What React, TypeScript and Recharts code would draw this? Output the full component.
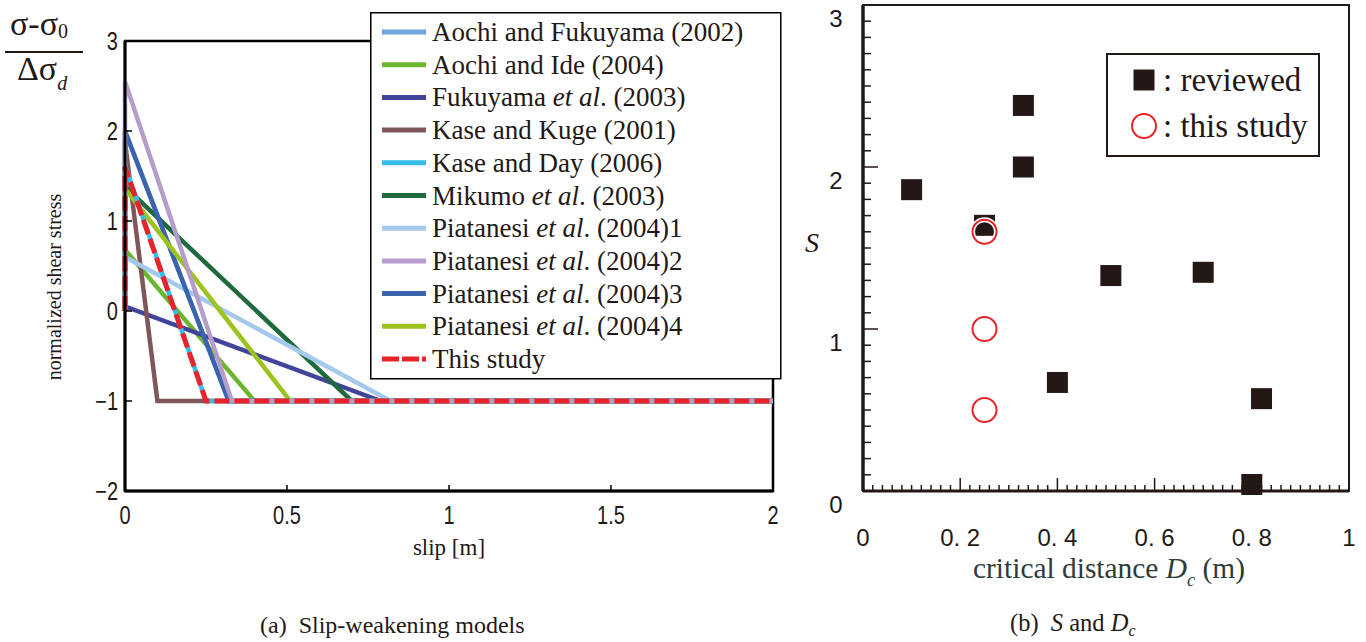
import {
  Legend,
  Line,
  LineChart,
  ReferenceArea,
  Scatter,
  ScatterChart,
  XAxis,
  YAxis,
} from 'recharts'

// (a) slip-weakening models
const modelNames = [
  'Aochi and Fukuyama (2002)',
  'Aochi and Ide (2004)',
  'Fukuyama et al. (2003)',
  'Kase and Kuge (2001)',
  'Kase and Day (2006)',
  'Mikumo et al. (2003)',
  'Piatanesi et al. (2004)1',
  'Piatanesi et al. (2004)2',
  'Piatanesi et al. (2004)3',
  'Piatanesi et al. (2004)4',
  'This study',
]
const modelColors = [
  '#6fa5dc',
  '#6cb52f',
  '#41449a',
  '#7f5659',
  '#35bde9',
  '#1f6a3c',
  '#a3c9ec',
  '#b59ccb',
  '#3b63ae',
  '#9cc31e',
  '#e8232a',
]
const peakStress = [2.0, 0.68, 0.05, 1.88, 1.62, 1.38, 0.6, 2.55, 2.0, 1.36, 1.6]
const slipDc = [0.32, 0.4, 0.79, 0.1, 0.25, 0.7, 0.82, 0.33, 0.32, 0.51, 0.25]
const drawOrder = [0, 1, 2, 3, 5, 6, 8, 9, 4, 7, 10]
const slipEnd = 2
const residualStress = -1
const slipTicks = [0, 0.5, 1, 1.5, 2]
const stressTicks = [-2, -1, 0, 1, 2, 3]

// (b) S and Dc
const dcReviewed = [0.1, 0.25, 0.33, 0.33, 0.4, 0.51, 0.7, 0.8, 0.82]
const sReviewed = [1.86, 1.64, 2.38, 2.0, 0.67, 1.33, 1.35, 0.04, 0.57]
const dcThisStudy = [0.25, 0.25, 0.25]
const sThisStudy = [1.6, 1.0, 0.5]
const dcMajor = [0, 0.2, 0.4, 0.6, 0.8, 1]
const dcLabels = ['0', '0. 2', '0. 4', '0. 6', '0. 8', '1']
const sLabels = [0, 1, 2, 3]

const ink = '#231815'
const serif = "'Liberation Serif', 'Times New Roman', serif"
const sans = "'Liberation Sans', Arial, sans-serif"

const modelLines = modelNames.map((name, i) => ({
  name,
  color: modelColors[i],
  points: [
    { x: 0, y: 0 },
    { x: 0, y: peakStress[i] },
    { x: slipDc[i], y: residualStress },
    { x: slipEnd, y: residualStress },
  ],
}))

const reviewedPts = dcReviewed.map((x, i) => ({ x, y: sReviewed[i] }))
const studyPts = dcThisStudy.map((x, i) => ({ x, y: sThisStudy[i] }))

// minor ticks every 0.02 on Dc, every 0.1 on S
const dcTicks = Array.from({ length: 51 }, (_, i) => Math.round(i * 2) / 100)
const sTicks = Array.from({ length: 31 }, (_, i) => Math.round(i) / 10)

function fmtStress(v: number) {
  return v < 0 ? '\u2212' + Math.abs(v) : String(v)
}

// condensed sans labels (no narrow font installed, so squeeze horizontally)
function NarrowText(props: { x: number; y: number; anchor: 'start' | 'middle' | 'end'; children: any }) {
  return (
    <text
      transform={`translate(${props.x},${props.y}) scale(0.8,1)`}
      textAnchor={props.anchor}
      fontSize={25}
      fontFamily={sans}
      fill={ink}
    >
      {props.children}
    </text>
  )
}

function SlipTick(p: any) {
  const x = p.x ?? 0
  const y = p.y ?? 0
  const v = p.payload?.value ?? 0
  return (
    <g>
      {v > 0 && v < 2 && <line x1={x} y1={y} x2={x} y2={y - 6} stroke="#000" strokeWidth={1.5} />}
      <NarrowText x={x} y={y + 33} anchor="middle">
        {v}
      </NarrowText>
    </g>
  )
}

function StressTick(p: any) {
  const x = p.x ?? 0
  const y = p.y ?? 0
  const v = p.payload?.value ?? 0
  return (
    <g>
      <line x1={x} y1={y} x2={x + 7} y2={y} stroke="#000" strokeWidth={1.5} />
      <NarrowText x={x - 7} y={y + 9} anchor="end">
        {fmtStress(v)}
      </NarrowText>
    </g>
  )
}

function DcTick(p: any) {
  const x = p.x ?? 0
  const y = p.y ?? 0
  const v = p.payload?.value ?? 0
  const mi = dcMajor.findIndex((m) => Math.abs(m - v) < 1e-6)
  return (
    <g>
      <line x1={x} y1={y} x2={x} y2={y - (mi >= 0 ? 13 : 6)} stroke={ink} strokeWidth={1.5} />
      {mi >= 0 && (
        <text x={x} y={y + 55} textAnchor="middle" fontSize={24} fontFamily={sans} fill={ink}>
          {dcLabels[mi]}
        </text>
      )}
    </g>
  )
}

function STick(p: any) {
  const x = p.x ?? 0
  const y = p.y ?? 0
  const v = p.payload?.value ?? 0
  const major = sLabels.some((m) => Math.abs(m - v) < 1e-6)
  return (
    <g>
      <line x1={x} y1={y} x2={x + (major ? 15 : 8)} y2={y} stroke={ink} strokeWidth={1.5} />
      {major && (
        <text x={x - 27} y={y + 22} textAnchor="middle" fontSize={24} fontFamily={sans} fill={ink}>
          {Math.round(v)}
        </text>
      )}
    </g>
  )
}

function Square(p: any) {
  return <rect x={p.cx - 10.5} y={p.cy - 10.5} width={21} height={21} fill={ink} />
}

function Ring(p: any) {
  return (
    <g>
      <circle cx={p.cx} cy={p.cy} r={12} fill="none" stroke="#fff" strokeWidth={5} />
      <circle cx={p.cx} cy={p.cy} r={12} fill="none" stroke="#e8232a" strokeWidth={2} />
    </g>
  )
}

function ModelName({ name }: { name: string }) {
  const parts = name.split('et al.')
  if (parts.length < 2) return <>{name}</>
  return (
    <>
      {parts[0]}
      <tspan fontStyle="italic">et al</tspan>.{parts[1]}
    </>
  )
}

function ModelLegend() {
  return (
    <svg width={412} height={368}>
      <rect x={0.75} y={0.75} width={410} height={366} fill="#fff" stroke="#000" strokeWidth={1.5} />
      {modelLines.map((m, i) => {
        const cy = 20 + i * 32.7
        const dashed = i === modelLines.length - 1
        return (
          <g key={m.name}>
            <line
              x1={12}
              x2={56}
              y1={cy}
              y2={cy}
              stroke={m.color}
              strokeWidth={5}
              strokeDasharray={dashed ? '17 3' : undefined}
            />
            <text x={62} y={cy + 9} fontSize={27} fontFamily={serif} fill={ink}>
              <ModelName name={m.name} />
            </text>
          </g>
        )
      })}
    </svg>
  )
}

function DcLegend() {
  return (
    <svg width={214} height={104}>
      <rect x={1} y={1} width={212} height={102} fill="#fff" stroke={ink} strokeWidth={2} />
      <rect x={27.5} y={16.5} width={21} height={21} fill={ink} />
      <text x={57} y={38} fontSize={33} fontFamily={serif} fill={ink}>
        {':\u00a0reviewed'}
      </text>
      <circle cx={38} cy={73} r={12} fill="none" stroke="#e8232a" strokeWidth={2} />
      <text x={57} y={84} fontSize={33} fontFamily={serif} fill={ink}>
        {':\u00a0this study'}
      </text>
    </svg>
  )
}

export default function App() {
  return (
    <div style={{ position: 'absolute', left: 0, top: 0, width: 1366, height: 642, background: '#fff' }}>
      <svg
        width={1366}
        height={642}
        style={{ position: 'absolute', left: 0, top: 0 }}
        fontFamily={serif}
        fill={ink}
      >
        <text x={10} y={35} fontSize={34}>
          σ-σ<tspan fontSize={20} dy={3}>0</tspan>
        </text>
        <line x1={5} x2={83} y1={52} y2={52} stroke={ink} strokeWidth={2} />
        <text x={17} y={80} fontSize={34}>
          Δσ<tspan fontSize={20} fontStyle="italic" dy={10}>d</tspan>
        </text>
        <text transform="translate(61, 287) rotate(-90)" textAnchor="middle" fontSize={20}>
          normalized shear stress
        </text>
        <text x={449} y={555} textAnchor="middle" fontSize={23}>
          slip [m]
        </text>
        <text x={812} y={252} textAnchor="middle" fontSize={28} fontStyle="italic">
          S
        </text>
        <text x={973} y={578} fontSize={29} fill="#2d3b3b" textLength={272} lengthAdjust="spacingAndGlyphs">
          {'critical distance '}
          <tspan fontStyle="italic">D</tspan>
          <tspan fontSize={18} fontStyle="italic" dy={8}>c</tspan>
          <tspan dy={-8}>{'\u00a0(m)'}</tspan>
        </text>
        <text x={260} y={633} fontSize={24}>
          {'(a)\u00a0 Slip-weakening models'}
        </text>
        <text x={1010} y={631} fontSize={24.5}>
          {'(b)\u00a0 '}
          <tspan fontStyle="italic">S</tspan>
          {' and '}
          <tspan fontStyle="italic">D</tspan>
          <tspan fontSize={16} fontStyle="italic" dy={5}>c</tspan>
        </text>
      </svg>

      <div style={{ position: 'absolute', left: 0, top: 0 }}>
        <LineChart width={800} height={560} margin={{ top: 41, right: 27, bottom: 39, left: 85 }}>
          <XAxis
            type="number"
            dataKey="x"
            domain={[0, slipEnd]}
            ticks={slipTicks}
            interval={0}
            height={30}
            tickSize={0}
            tickMargin={0}
            tickLine={false}
            axisLine={{ stroke: '#000', strokeWidth: 3 }}
            tick={<SlipTick />}
            allowDuplicatedCategory={false}
          />
          <YAxis
            type="number"
            dataKey="y"
            domain={[-2, 3]}
            ticks={stressTicks}
            interval={0}
            width={40}
            tickSize={0}
            tickMargin={0}
            tickLine={false}
            axisLine={{ stroke: '#000', strokeWidth: 3 }}
            tick={<StressTick />}
          />
          <ReferenceArea
            x1={0}
            x2={slipEnd}
            y1={-2}
            y2={3}
            fill="none"
            stroke="#000"
            strokeWidth={2.5}
            ifOverflow="visible"
          />
          {drawOrder.map((i) => {
            const m = modelLines[i]
            const dashed = i === modelLines.length - 1
            return (
              <Line
                key={m.name}
                data={m.points}
                dataKey="y"
                name={m.name}
                type="linear"
                stroke={m.color}
                strokeWidth={dashed ? 5 : 4.5}
                strokeDasharray={dashed ? '15 5' : undefined}
                dot={false}
                activeDot={false}
                isAnimationActive={false}
              />
            )
          })}
          <Legend
            layout="vertical"
            align="center"
            verticalAlign="middle"
            content={() => <ModelLegend />}
            wrapperStyle={{ left: 370, top: 12, width: 412, height: 368 }}
          />
        </LineChart>
      </div>

      <div style={{ position: 'absolute', left: 780, top: 0 }}>
        <ScatterChart width={586} height={642} margin={{ top: 5, right: 17, bottom: 91, left: 33 }}>
          <XAxis
            type="number"
            dataKey="x"
            domain={[0, 1]}
            ticks={dcTicks}
            interval={0}
            height={60}
            tickSize={0}
            tickMargin={0}
            tickLine={false}
            axisLine={{ stroke: ink, strokeWidth: 3 }}
            tick={<DcTick />}
          />
          <YAxis
            type="number"
            dataKey="y"
            domain={[0, 3]}
            ticks={sTicks}
            interval={0}
            width={50}
            tickSize={0}
            tickMargin={0}
            tickLine={false}
            axisLine={{ stroke: ink, strokeWidth: 3.5 }}
            tick={<STick />}
          />
          <ReferenceArea
            x1={0}
            x2={1}
            y1={0}
            y2={3}
            fill="none"
            stroke={ink}
            strokeWidth={2}
            ifOverflow="visible"
          />
          <Scatter name="reviewed" data={reviewedPts} shape={Square} isAnimationActive={false} />
          <Scatter name="this study" data={studyPts} shape={Ring} isAnimationActive={false} />
          <Legend
            layout="vertical"
            align="center"
            verticalAlign="middle"
            content={() => <DcLegend />}
            wrapperStyle={{ left: 326, top: 53, width: 214, height: 104 }}
          />
        </ScatterChart>
      </div>
    </div>
  )
}
